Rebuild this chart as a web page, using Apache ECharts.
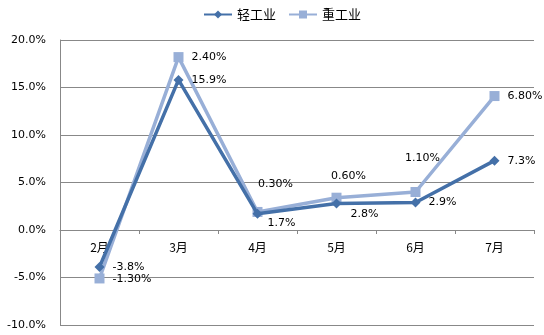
<!DOCTYPE html>
<html><head><meta charset="utf-8">
<script src="https://cdn.jsdelivr.net/npm/echarts@6/dist/echarts.min.js"></script>
<style>html,body{margin:0;padding:0;background:#fff}#c{width:544px;height:335px}</style>
</head><body><div id="c"></div>
<script>
var categories = ['2月','3月','4月','5月','6月','7月'];
var lightValues = [-3.9, 15.8, 1.7, 2.8, 2.9, 7.3];
var heavyValues = [-5.1, 18.2, 1.9, 3.4, 4.0, 14.1];
var lightLabels = ['-3.8%','15.9%','1.7%','2.8%','2.9%','7.3%'];
var heavyLabels = ['-1.30%','2.40%','0.30%','0.60%','1.10%','6.80%'];

var lightPos = [['right',[3,0]],['right',[3,0]],['right',[0,9]],['right',[4,11]],['right',[3,0]],['right',[3,0]]];
var heavyPos = [['right',[3,1]],['right',[3,0]],['top',[18,-12]],['top',[12,-6]],['top',[7,-18]],['right',[3,0]]];

var font = 'Noto Sans CJK SC, DejaVu Sans, sans-serif';
function mk(vals, labels, pos) {
  return vals.map(function(v,i){
    return {value:v, label:{show:true, position:pos[i][0], offset:pos[i][1], formatter:labels[i]}};
  });
}
var chart = echarts.init(document.getElementById('c'));
chart.setOption({
  animation:false,
  textStyle:{fontFamily:font},
  legend:{top:3, left:198, itemWidth:28, itemHeight:10, itemGap:12,
    textStyle:{fontSize:13, color:'#000', fontFamily:font}},
  grid:{left:60, right:10, top:40, bottom:10, outerBoundsMode:'none', containLabel:false},
  xAxis:{type:'category', data:categories, boundaryGap:true, offset:-95,
    axisLine:{onZero:false, lineStyle:{color:'#888', width:1}},
    axisTick:{show:true, inside:false, length:4, alignWithLabel:false, interval:0, lineStyle:{color:'#888'}},
    axisLabel:{color:'#000', fontSize:12, margin:11, fontFamily:font}},
  yAxis:{type:'value', min:-10, max:20, interval:5,
    axisLine:{show:true, lineStyle:{color:'#888'}},
    axisTick:{show:false},
    splitLine:{lineStyle:{color:'#888', width:1}},
    axisLabel:{color:'#000', fontSize:11, margin:14, fontFamily:'DejaVu Sans, sans-serif',
      formatter:function(v){return v.toFixed(1)+'%';}}},
  series:[
    {name:'轻工业', type:'line', data:mk(lightValues, lightLabels, lightPos),
     symbol:'diamond', symbolSize:10, color:'#4470A8',
     lineStyle:{width:3.5, color:'#4470A8'}, itemStyle:{color:'#4470A8'},
     label:{color:'#000', fontSize:11, fontFamily:'DejaVu Sans, sans-serif'}, z:3},
    {name:'重工业', type:'line', data:mk(heavyValues, heavyLabels, heavyPos),
     symbol:'rect', symbolSize:10, color:'#98AFD7',
     lineStyle:{width:3.5, color:'#98AFD7'}, itemStyle:{color:'#98AFD7'},
     label:{color:'#000', fontSize:11, fontFamily:'DejaVu Sans, sans-serif'}, z:2}
  ]
});
</script></body></html>
